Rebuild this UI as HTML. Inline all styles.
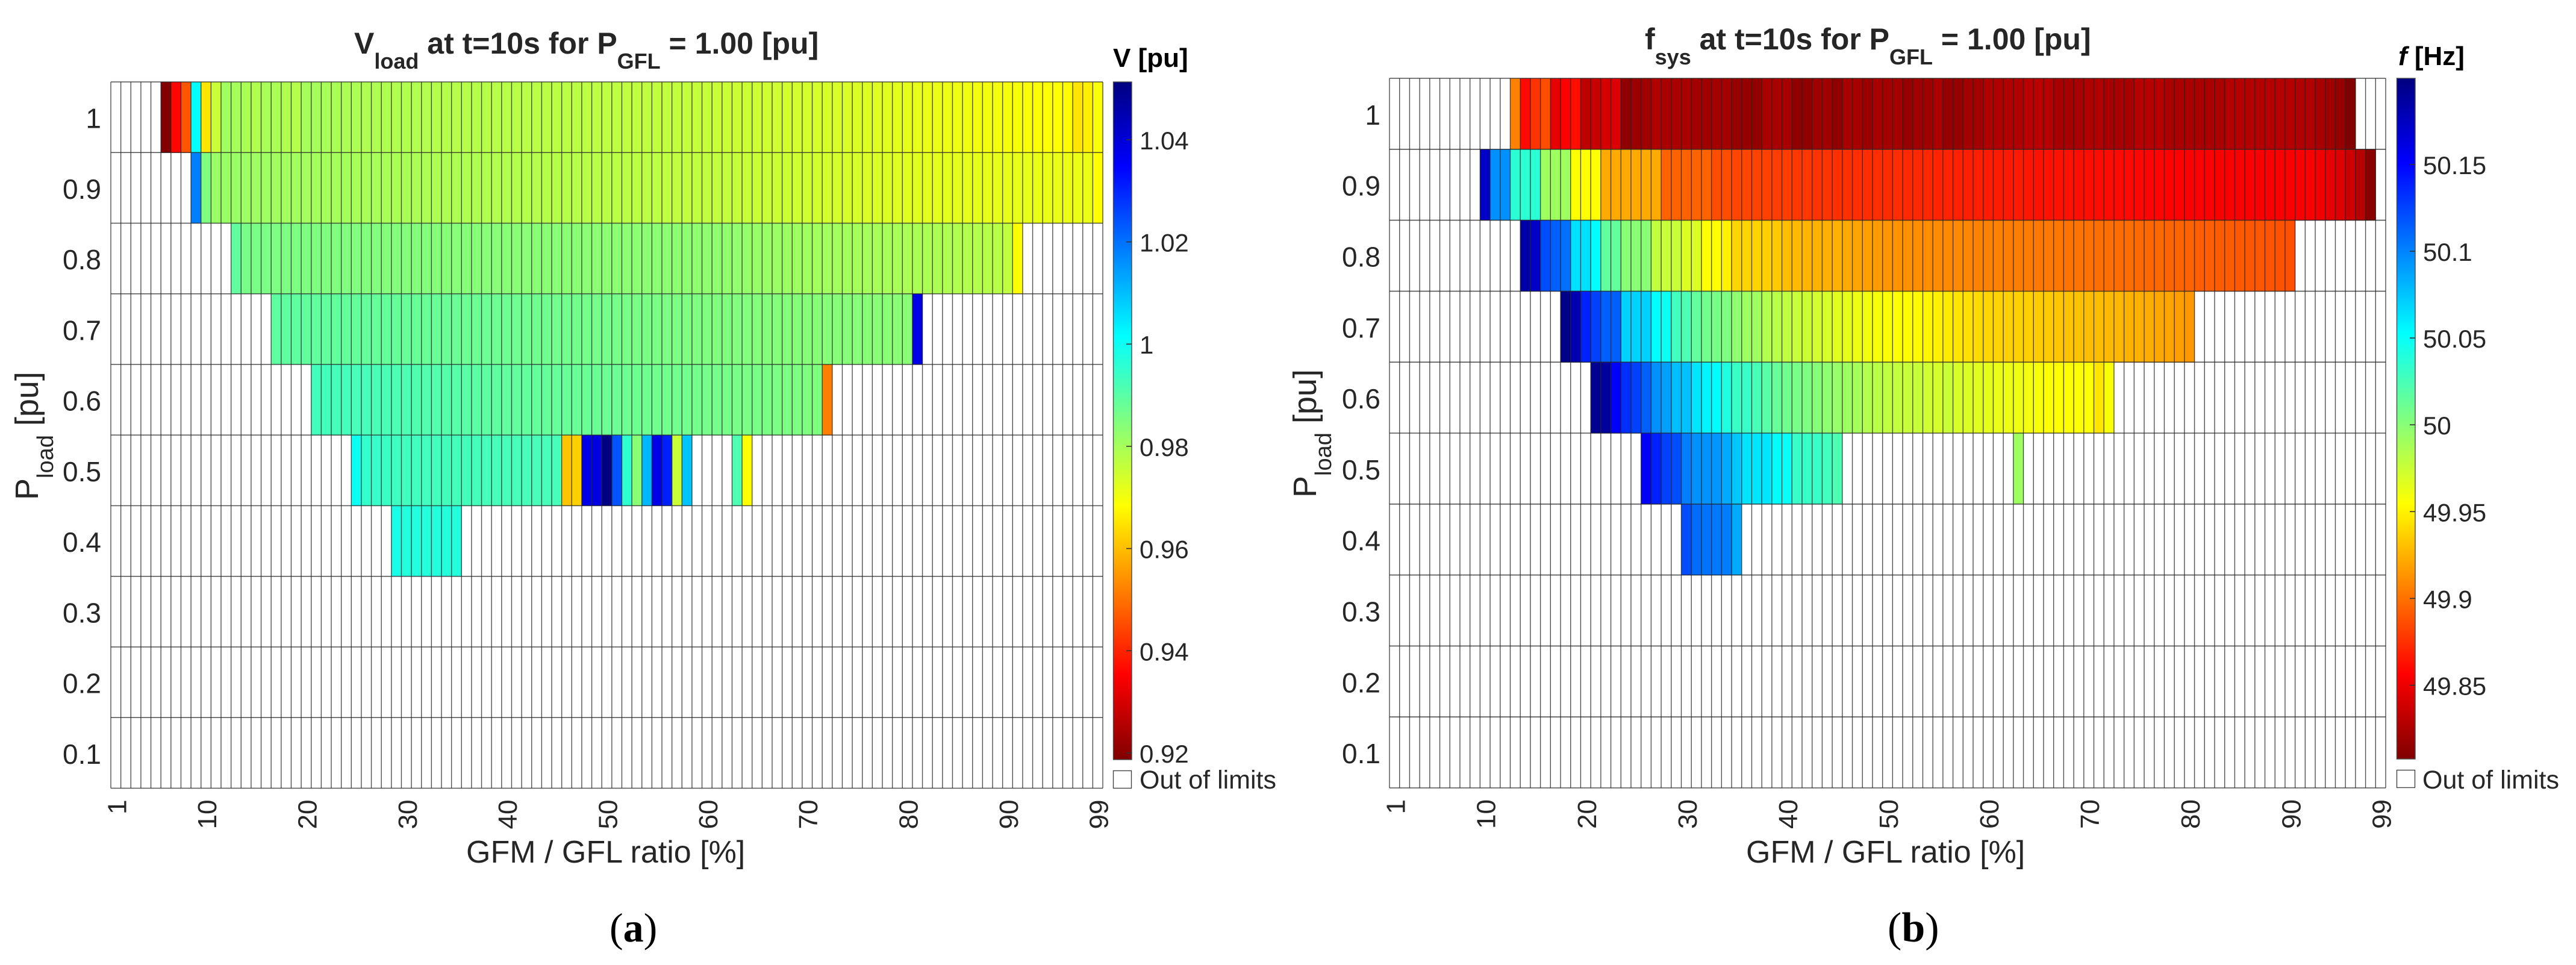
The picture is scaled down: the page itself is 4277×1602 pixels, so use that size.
<!DOCTYPE html>
<html lang="en">
<head>
<meta charset="utf-8">
<title>Vload and fsys heatmaps</title>
<style>
html,body{margin:0;padding:0;background:#fff;}
svg{display:block;}
text{font-family:"Liberation Sans",sans-serif;fill:#262626;white-space:pre;}
.caption{font-family:"Liberation Serif",serif;fill:#000;}
</style>
</head>
<body>
<svg id="figure" xmlns="http://www.w3.org/2000/svg" width="4277" height="1602" viewBox="0 0 4277 1602">
<defs>
<linearGradient id="jetReversed" x1="0" y1="0" x2="0" y2="1">
<stop offset="0" stop-color="#000080"/>
<stop offset="0.125" stop-color="#0000ff"/>
<stop offset="0.375" stop-color="#00ffff"/>
<stop offset="0.625" stop-color="#ffff00"/>
<stop offset="0.875" stop-color="#ff0000"/>
<stop offset="1" stop-color="#800000"/>
</linearGradient>
</defs>
<rect x="0" y="0" width="4277" height="1602" fill="#fff"/>
<g id="panelA"></g>
<g id="panelB"></g>

<text x="588" y="89" font-size="50" font-weight="bold"><tspan>V</tspan><tspan font-size="36" dy="25">load</tspan><tspan dy="-25"> at t=10s for P</tspan><tspan font-size="36" dy="25">GFL</tspan><tspan dy="-25"> = 1.00 [pu]</tspan></text>
<text x="2731" y="82" font-size="50" font-weight="bold"><tspan>f</tspan><tspan font-size="36" dy="25">sys</tspan><tspan dy="-25"> at t=10s for P</tspan><tspan font-size="36" dy="25">GFL</tspan><tspan dy="-25"> = 1.00 [pu]</tspan></text>

<text x="774" y="1432" font-size="52">GFM / GFL ratio [%]</text>
<text x="2899" y="1432" font-size="52">GFM / GFL ratio [%]</text>

<text transform="translate(63,830) rotate(-90)" font-size="54"><tspan>P</tspan><tspan font-size="38" dy="25">load</tspan><tspan dy="-25"> [pu]</tspan></text>
<text transform="translate(2185,826) rotate(-90)" font-size="54"><tspan>P</tspan><tspan font-size="38" dy="25">load</tspan><tspan dy="-25"> [pu]</tspan></text>

<text x="1848" y="111" font-size="44" font-weight="bold" style="fill:#000">V [pu]</text>
<text x="3982" y="108" font-size="44" font-weight="bold" style="fill:#000"><tspan font-style="italic">f</tspan> [Hz]</text>

<rect x="1848.5" y="1279.5" width="30" height="29" fill="#fff" stroke="#444" stroke-width="1.4"/>
<text x="1892" y="1309" font-size="43">Out of limits</text>
<rect x="3979.5" y="1278.5" width="30" height="29" fill="#fff" stroke="#444" stroke-width="1.4"/>
<text x="4022" y="1309" font-size="43">Out of limits</text>

<text class="caption" x="1012" y="1563" font-size="68" style="fill:#000">(<tspan font-weight="bold">a</tspan>)</text>
<text class="caption" x="3134" y="1563" font-size="70" style="fill:#000">(<tspan font-weight="bold">b</tspan>)</text>
</svg>

<script>
const N = null;

const gfmRatioCategories = [
1,2,3,4,5,6,7,8,9,10,
11,12,13,14,15,16,17,18,19,20,
21,22,23,24,25,26,27,28,29,30,
31,32,33,34,35,36,37,38,39,40,
41,42,43,44,45,46,47,48,49,50,
51,52,53,54,55,56,57,58,59,60,
61,62,63,64,65,66,67,68,69,70,
71,72,73,74,75,76,77,78,79,80,
81,82,83,84,85,86,87,88,89,90,
91,92,93,94,95,96,97,98,99];
const pLoadCategories = ["1","0.9","0.8","0.7","0.6","0.5","0.4","0.3","0.2","0.1"];
const xTickLabels = [1,10,20,30,40,50,60,70,80,90,99];

const voltageLimits = [0.9187, 1.0513];
const voltageTickLabels = ["1.04","1.02","1","0.98","0.96","0.94","0.92"];
const frequencyLimits = [49.8075, 50.1996];
const frequencyTickLabels = ["50.15","50.1","50.05","50","49.95","49.9","49.85"];

const emptyRow = [
N,N,N,N,N,N,N,N,N,N,
N,N,N,N,N,N,N,N,N,N,
N,N,N,N,N,N,N,N,N,N,
N,N,N,N,N,N,N,N,N,N,
N,N,N,N,N,N,N,N,N,N,
N,N,N,N,N,N,N,N,N,N,
N,N,N,N,N,N,N,N,N,N,
N,N,N,N,N,N,N,N,N,N,
N,N,N,N,N,N,N,N,N,N,
N,N,N,N,N,N,N,N,N];

const voltageP10 = [
N,N,N,N,N,.9190,.9359,.9463,1.0016,.9651,
.9756,.9808,.9801,.9795,.9787,.9797,.9795,.9787,.9782,.9801,
.9801,.9797,.9795,.9793,.9792,.9790,.9788,.9788,.9786,.9785,
.9785,.9784,.9783,.9782,.9781,.9781,.9780,.9779,.9778,.9777,
.9776,.9776,.9775,.9774,.9773,.9772,.9772,.9771,.9770,.9770,
.9769,.9768,.9767,.9766,.9765,.9764,.9763,.9762,.9760,.9758,
.9755,.9753,.9752,.9750,.9749,.9747,.9746,.9744,.9743,.9741,
.9739,.9737,.9735,.9733,.9731,.9729,.9727,.9724,.9721,.9717,
.9714,.9712,.9710,.9708,.9706,.9704,.9702,.9700,.9698,.9696,
.9694,.9692,.9690,.9686,.9684,.9680,.9651,.9665,.9692];
const voltageP09 = [
N,N,N,N,N,N,N,N,1.0182,.9850,
.9817,.9817,.9815,.9813,.9812,.9810,.9808,.9807,.9806,.9805,
.9804,.9803,.9802,.9801,.9800,.9799,.9798,.9797,.9796,.9795,
.9794,.9793,.9792,.9791,.9790,.9789,.9788,.9787,.9786,.9785,
.9784,.9783,.9782,.9781,.9780,.9779,.9778,.9777,.9776,.9775,
.9774,.9773,.9772,.9771,.9770,.9769,.9768,.9767,.9766,.9765,
.9763,.9762,.9760,.9758,.9756,.9754,.9752,.9750,.9748,.9746,
.9744,.9742,.9740,.9738,.9736,.9734,.9732,.9730,.9727,.9725,
.9723,.9722,.9721,.9720,.9719,.9718,.9717,.9716,.9716,.9715,
.9715,.9714,.9713,.9713,.9712,.9712,.9711,.9710,.9684];
const voltageP08 = [
N,N,N,N,N,N,N,N,N,N,
N,N,.9890,.9860,.9858,.9856,.9855,.9854,.9853,.9852,
.9850,.9849,.9849,.9848,.9848,.9847,.9847,.9846,.9845,.9845,
.9844,.9844,.9843,.9842,.9842,.9841,.9840,.9840,.9839,.9838,
.9838,.9837,.9837,.9836,.9836,.9835,.9835,.9835,.9834,.9834,
.9833,.9833,.9833,.9832,.9832,.9832,.9831,.9831,.9830,.9830,
.9828,.9826,.9824,.9822,.9820,.9818,.9816,.9814,.9811,.9808,
.9807,.9806,.9805,.9804,.9803,.9801,.9800,.9798,.9797,.9795,
.9794,.9793,.9792,.9790,.9787,.9785,.9783,.9780,.9777,.9767,
.9684,N,N,N,N,N,N,N,N];
const voltageP07 = [
N,N,N,N,N,N,N,N,N,N,
N,N,N,N,N,N,.9893,.9892,.9891,.9890,
.9889,.9889,.9888,.9887,.9886,.9886,.9885,.9884,.9884,.9883,
.9882,.9881,.9880,.9879,.9878,.9877,.9876,.9875,.9874,.9873,
.9872,.9871,.9870,.9869,.9868,.9867,.9866,.9865,.9864,.9863,
.9862,.9860,.9859,.9858,.9857,.9856,.9855,.9853,.9852,.9850,
.9849,.9849,.9848,.9847,.9846,.9845,.9845,.9844,.9843,.9843,
.9842,.9842,.9841,.9841,.9840,.9839,.9839,.9838,.9838,.9837,
1.0380,N,N,N,N,N,N,N,N,N,
N,N,N,N,N,N,N,N,N];
const voltageP06 = [
N,N,N,N,N,N,N,N,N,N,
N,N,N,N,N,N,N,N,N,N,
.9930,.9929,.9927,.9926,.9924,.9923,.9921,.9920,.9918,.9916,
.9913,.9911,.9908,.9905,.9903,.9900,.9898,.9895,.9893,.9890,
.9889,.9887,.9886,.9885,.9883,.9882,.9880,.9879,.9878,.9876,
.9875,.9874,.9873,.9871,.9870,.9869,.9868,.9866,.9865,.9864,
.9863,.9862,.9860,.9859,.9858,.9857,.9855,.9854,.9852,.9850,
.9850,.9519,N,N,N,N,N,N,N,N,
N,N,N,N,N,N,N,N,N,N,
N,N,N,N,N,N,N,N,N];
const voltageP05 = [
N,N,N,N,N,N,N,N,N,N,
N,N,N,N,N,N,N,N,N,N,
N,N,N,N,1.0000,.9950,.9945,.9940,.9936,.9933,
.9932,.9931,.9930,.9929,.9929,.9928,.9927,.9926,.9926,.9925,
.9925,.9924,.9924,.9923,.9923,.9608,.9623,1.0380,1.0388,1.0510,
1.0238,.9956,.9837,1.0109,1.0380,1.0307,.9756,1.0092,N,N,
N,N,.9916,.9684,N,N,N,N,N,N,
N,N,N,N,N,N,N,N,N,N,
N,N,N,N,N,N,N,N,N,N,
N,N,N,N,N,N,N,N,N];
const voltageP04 = [
N,N,N,N,N,N,N,N,N,N,
N,N,N,N,N,N,N,N,N,N,
N,N,N,N,N,N,N,N,.9983,.9971,
.9970,.9970,.9970,.9969,.9969,N,N,N,N,N,
N,N,N,N,N,N,N,N,N,N,
N,N,N,N,N,N,N,N,N,N,
N,N,N,N,N,N,N,N,N,N,
N,N,N,N,N,N,N,N,N,N,
N,N,N,N,N,N,N,N,N,N,
N,N,N,N,N,N,N,N,N];

const frequencyP10 = [
N,N,N,N,N,N,N,N,N,N,
N,N,49.906,49.860,49.876,49.886,49.847,49.856,49.862,49.832,
49.835,49.841,49.843,49.814,49.818,49.820,49.826,49.824,49.824,49.824,
49.822,49.820,49.822,49.822,49.816,49.816,49.815,49.824,49.824,49.823,
49.814,49.814,49.820,49.820,49.814,49.823,49.823,49.818,49.823,49.822,
49.822,49.816,49.820,49.820,49.824,49.816,49.816,49.821,49.821,49.826,
49.826,49.826,49.826,49.830,49.830,49.829,49.823,49.823,49.823,49.826,
49.826,49.823,49.823,49.823,49.829,49.829,49.829,49.824,49.824,49.824,
49.824,49.824,49.824,49.828,49.828,49.828,49.828,49.828,49.828,49.828,
49.826,49.826,49.823,49.820,49.816,49.808,N,N,N];
const frequencyP09 = [
N,N,N,N,N,N,N,N,N,50.172,
50.095,50.095,50.036,50.036,50.036,49.992,49.992,49.992,49.955,49.955,
49.955,49.922,49.922,49.922,49.922,49.922,49.922,49.894,49.894,49.894,
49.894,49.894,49.886,49.886,49.883,49.883,49.882,49.881,49.880,49.880,
49.878,49.878,49.876,49.876,49.875,49.875,49.874,49.874,49.874,49.873,
49.874,49.872,49.872,49.871,49.870,49.870,49.869,49.868,49.868,49.867,
49.867,49.866,49.866,49.865,49.864,49.864,49.864,49.863,49.862,49.862,
49.861,49.861,49.860,49.860,49.859,49.858,49.858,49.857,49.857,49.856,
49.856,49.856,49.855,49.855,49.855,49.855,49.855,49.855,49.855,49.855,
49.855,49.855,49.851,49.847,49.844,49.837,49.829,49.811,N];
const frequencyP08 = [
N,N,N,N,N,N,N,N,N,N,
N,N,N,50.184,50.172,50.121,50.114,50.107,50.064,50.064,
50.053,50.015,50.015,50.000,50.000,50.000,49.979,49.976,49.976,49.968,
49.968,49.955,49.955,49.949,49.938,49.938,49.938,49.936,49.934,49.930,
49.928,49.926,49.925,49.924,49.924,49.922,49.920,49.918,49.916,49.914,
49.913,49.912,49.911,49.911,49.910,49.909,49.909,49.908,49.907,49.906,
49.906,49.905,49.905,49.904,49.903,49.903,49.902,49.901,49.901,49.900,
49.899,49.899,49.898,49.898,49.897,49.896,49.896,49.895,49.895,49.894,
49.893,49.893,49.892,49.892,49.891,49.890,49.890,49.889,49.888,49.887,
N,N,N,N,N,N,N,N,N];
const frequencyP07 = [
N,N,N,N,N,N,N,N,N,N,
N,N,N,N,N,N,N,50.196,50.180,50.138,
50.126,50.114,50.114,50.070,50.070,50.070,50.053,50.048,50.028,50.023,
50.015,50.009,50.007,50.004,49.998,49.992,49.992,49.984,49.982,49.979,
49.976,49.974,49.972,49.970,49.966,49.964,49.962,49.960,49.958,49.956,
49.955,49.954,49.953,49.951,49.949,49.947,49.945,49.943,49.941,49.939,
49.938,49.937,49.937,49.936,49.935,49.934,49.933,49.932,49.931,49.930,
49.929,49.928,49.927,49.925,49.924,49.923,49.921,49.920,49.918,49.915,
N,N,N,N,N,N,N,N,N,N,
N,N,N,N,N,N,N,N,N];
const frequencyP06 = [
N,N,N,N,N,N,N,N,N,N,
N,N,N,N,N,N,N,N,N,N,
50.193,50.188,50.151,50.133,50.126,50.114,50.095,50.089,50.077,50.076,
50.062,50.056,50.053,50.041,50.031,50.031,50.025,50.019,50.013,50.009,
50.007,50.004,50.001,49.998,49.995,49.992,49.989,49.984,49.982,49.979,
49.978,49.976,49.976,49.973,49.971,49.975,49.970,49.968,49.966,49.964,
49.963,49.962,49.961,49.959,49.957,49.955,49.955,49.955,49.955,49.955,
49.945,49.957,N,N,N,N,N,N,N,N,
N,N,N,N,N,N,N,N,N,N,
N,N,N,N,N,N,N,N,N];
const frequencyP05 = [
N,N,N,N,N,N,N,N,N,N,
N,N,N,N,N,N,N,N,N,N,
N,N,N,N,N,50.151,50.138,50.126,50.121,50.102,
50.095,50.094,50.092,50.085,50.074,50.063,50.062,50.062,50.053,50.050,
50.031,50.031,50.031,50.028,50.023,N,N,N,N,N,
N,N,N,N,N,N,N,N,N,N,
N,N,49.992,N,N,N,N,N,N,N,
N,N,N,N,N,N,N,N,N,N,
N,N,N,N,N,N,N,N,N,N,
N,N,N,N,N,N,N,N,N];
const frequencyP04 = [
N,N,N,N,N,N,N,N,N,N,
N,N,N,N,N,N,N,N,N,N,
N,N,N,N,N,N,N,N,N,50.121,
50.109,50.106,50.104,50.102,50.085,N,N,N,N,N,
N,N,N,N,N,N,N,N,N,N,
N,N,N,N,N,N,N,N,N,N,
N,N,N,N,N,N,N,N,N,N,
N,N,N,N,N,N,N,N,N,N,
N,N,N,N,N,N,N,N,N,N,
N,N,N,N,N,N,N,N,N];

const voltageRows = [voltageP10, voltageP09, voltageP08, voltageP07, voltageP06, voltageP05, voltageP04, emptyRow, emptyRow, emptyRow];
const frequencyRows = [frequencyP10, frequencyP09, frequencyP08, frequencyP07, frequencyP06, frequencyP05, frequencyP04, emptyRow, emptyRow, emptyRow];

const SVG_NS = "http://www.w3.org/2000/svg";

function clamp01(x) { return Math.max(0, Math.min(1, x)); }

function jetColor(t) {
  const r = clamp01(1.5 - Math.abs(4 * t - 3));
  const g = clamp01(1.5 - Math.abs(4 * t - 2));
  const b = clamp01(1.5 - Math.abs(4 * t - 1));
  return "rgb(" + Math.round(r * 255) + "," + Math.round(g * 255) + "," + Math.round(b * 255) + ")";
}

function drawPanel(group, rows, limits, tickLabels, box, cbar, yLabelX) {
  const nCols = gfmRatioCategories.length;
  const nRows = pLoadCategories.length;
  const xScale = function (i) { return box.left + (box.right - box.left) * i / nCols; };
  const yScale = function (j) { return box.top + (box.bottom - box.top) * j / nRows; };
  const vMin = limits[0];
  const vMax = limits[1];
  const colorT = function (v) { return clamp01((vMax - v) / (vMax - vMin)); };
  const cbarY = function (v) { return cbar.top + (cbar.bottom - cbar.top) * (vMax - v) / (vMax - vMin); };

  const frame = document.createElementNS(SVG_NS, "rect");
  
  
  frame.setAttribute("x", box.left);
  frame.setAttribute("y", box.top);
  frame.setAttribute("width", box.right - box.left);
  frame.setAttribute("height", box.bottom - box.top);
  frame.setAttribute("fill", "#fff");
  group.appendChild(frame);

  rows.forEach(function (row, j) {
    row.forEach(function (value, i) {
      if (value === null) return;
      const cell = document.createElementNS(SVG_NS, "rect");
      
      
      cell.setAttribute("x", xScale(i));
      cell.setAttribute("y", yScale(j));
      cell.setAttribute("width", xScale(i + 1) - xScale(i) + 0.4);
      cell.setAttribute("height", yScale(j + 1) - yScale(j) + 0.4);
      cell.setAttribute("fill", jetColor(colorT(value)));
      group.appendChild(cell);
    });
  });

  for (let i = 0; i <= nCols; i++) {
    const vLine = document.createElementNS(SVG_NS, "line");
    
    
    vLine.setAttribute("x1", xScale(i));
    vLine.setAttribute("x2", xScale(i));
    vLine.setAttribute("y1", box.top);
    vLine.setAttribute("y2", box.bottom);
    vLine.setAttribute("stroke", "rgba(38,38,38,0.8)");
    vLine.setAttribute("stroke-width", "1.4");
    group.appendChild(vLine);
  }
  for (let j = 0; j <= nRows; j++) {
    const hLine = document.createElementNS(SVG_NS, "line");
    
    
    hLine.setAttribute("x1", box.left);
    hLine.setAttribute("x2", box.right);
    hLine.setAttribute("y1", yScale(j));
    hLine.setAttribute("y2", yScale(j));
    hLine.setAttribute("stroke", "rgba(38,38,38,0.8)");
    hLine.setAttribute("stroke-width", "1.6");
    group.appendChild(hLine);
  }

  pLoadCategories.forEach(function (label, j) {
    const t = document.createElementNS(SVG_NS, "text");
    
    
    t.setAttribute("x", yLabelX);
    t.setAttribute("y", (yScale(j) + yScale(j + 1)) / 2 + 18);
    t.setAttribute("text-anchor", "end");
    t.setAttribute("font-size", "46");
    t.textContent = label;
    group.appendChild(t);
  });

  xTickLabels.forEach(function (label) {
    const idx = gfmRatioCategories.indexOf(label);
    const cx = (xScale(idx) + xScale(idx + 1)) / 2 + 1;
    const t = document.createElementNS(SVG_NS, "text");
    
    
    t.setAttribute("transform", "translate(" + (cx + 16) + "," + (box.bottom + 19) + ") rotate(-90)");
    t.setAttribute("text-anchor", "end");
    t.setAttribute("font-size", "44");
    t.textContent = String(label);
    group.appendChild(t);
  });

  const bar = document.createElementNS(SVG_NS, "rect");
  
  
  bar.setAttribute("x", cbar.left);
  bar.setAttribute("y", cbar.top);
  bar.setAttribute("width", cbar.right - cbar.left);
  bar.setAttribute("height", cbar.bottom - cbar.top);
  bar.setAttribute("fill", "url(#jetReversed)");
  bar.setAttribute("stroke", "#4a4a4a");
  bar.setAttribute("stroke-width", "1.4");
  group.appendChild(bar);

  tickLabels.forEach(function (label) {
    const y = cbarY(parseFloat(label));
    const tick = document.createElementNS(SVG_NS, "line");
    
    
    tick.setAttribute("x1", cbar.right - 9);
    tick.setAttribute("x2", cbar.right);
    tick.setAttribute("y1", y);
    tick.setAttribute("y2", y);
    tick.setAttribute("stroke", "#333");
    tick.setAttribute("stroke-width", "1.6");
    group.appendChild(tick);

    const t = document.createElementNS(SVG_NS, "text");
    
    
    t.setAttribute("x", cbar.right + 13);
    t.setAttribute("y", y + 16);
    t.setAttribute("font-size", "42");
    t.textContent = label;
    group.appendChild(t);
  });
}

drawPanel(document.getElementById("panelA"), voltageRows, voltageLimits, voltageTickLabels,
  { left: 184, right: 1831, top: 136, bottom: 1308.5 },
  { left: 1848.5, right: 1879, top: 136, bottom: 1261 }, 168);

drawPanel(document.getElementById("panelB"), frequencyRows, frequencyLimits, frequencyTickLabels,
  { left: 2307, right: 3961, top: 130, bottom: 1308 },
  { left: 3979.5, right: 4010, top: 130, bottom: 1260 }, 2292);
</script>
</body>
</html>
